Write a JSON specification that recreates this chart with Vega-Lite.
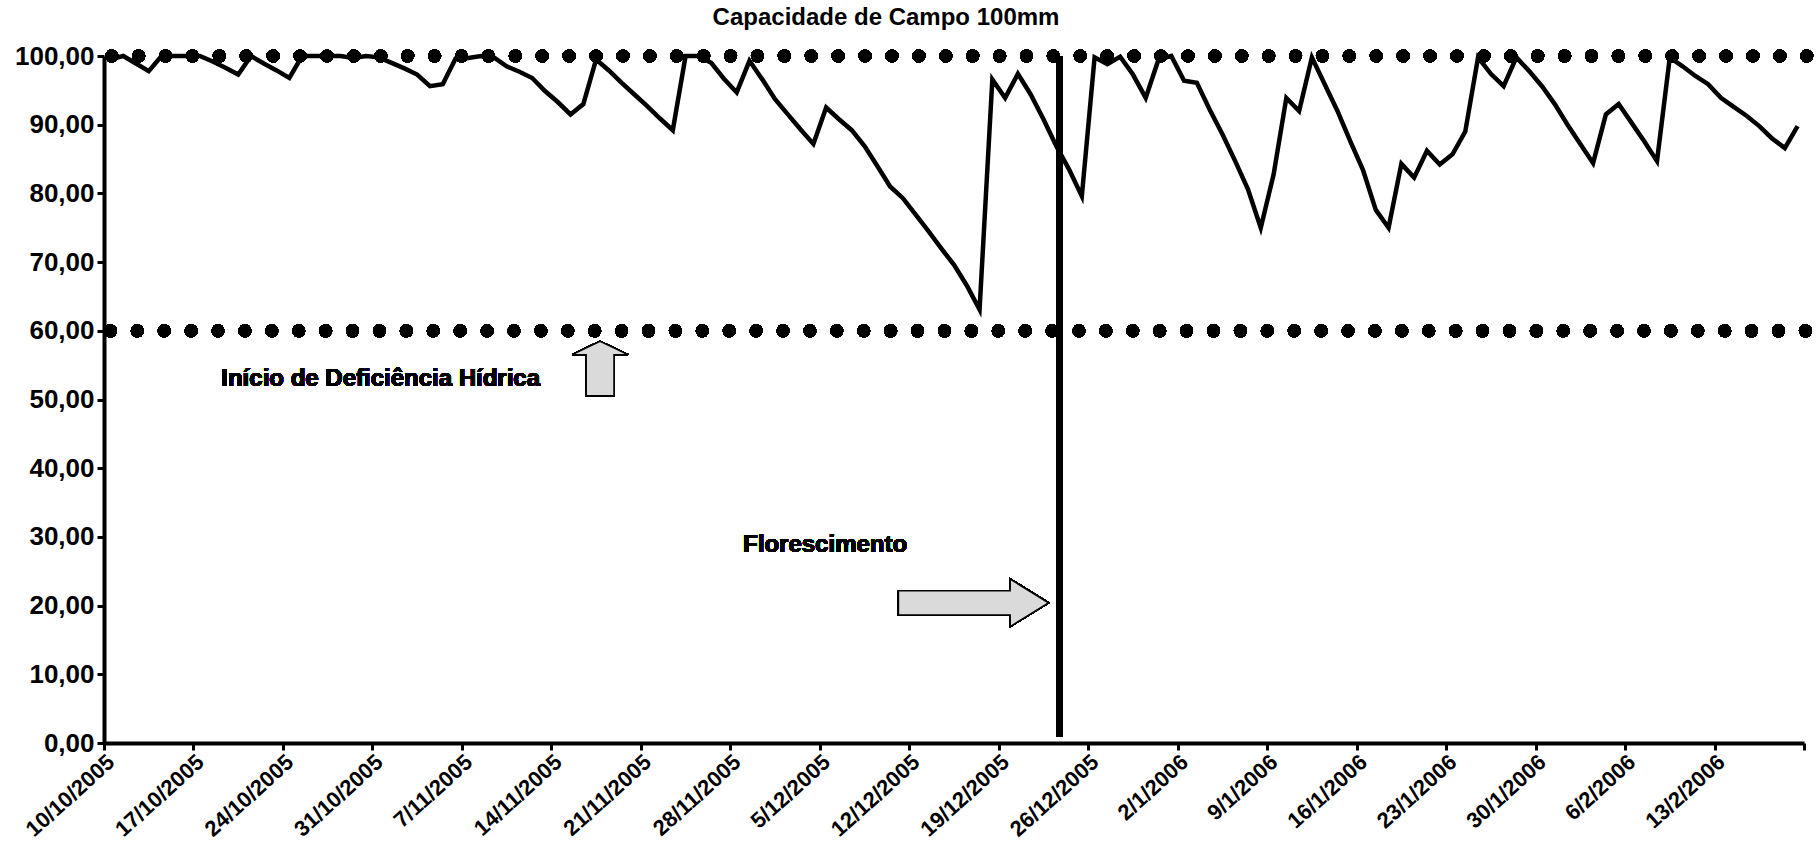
{
  "$schema": "https://vega.github.io/schema/vega-lite/v6.json",
  "width": 1700,
  "height": 687,
  "autosize": {"type": "none"},
  "padding": {"left": 104, "top": 56, "right": 12, "bottom": 113},
  "background": "white",
  "title": {"text": "Capacidade de Campo 100mm", "anchor": "middle", "dx": -68, "dy": 22, "offset": 16, "baseline": "alphabetic", "font": "Liberation Sans", "fontWeight": "bold", "fontSize": 24, "color": "black"},
  "config": {
    "view": {"stroke": null},
    "axis": {"grid": false, "domainColor": "black", "domainWidth": 4, "tickColor": "black", "tickWidth": 3, "tickSize": 7, "labelFont": "Liberation Sans", "labelFontWeight": "bold", "labelFontSize": 24, "labelColor": "black", "title": null}
  },
  "datasets": {
    "agua": [
      {"date": "2005-10-10", "armazenamento": 99.5},
      {"date": "2005-10-11", "armazenamento": 100},
      {"date": "2005-10-12", "armazenamento": 98.9},
      {"date": "2005-10-13", "armazenamento": 97.8},
      {"date": "2005-10-14", "armazenamento": 100},
      {"date": "2005-10-15", "armazenamento": 100},
      {"date": "2005-10-16", "armazenamento": 100},
      {"date": "2005-10-17", "armazenamento": 100},
      {"date": "2005-10-18", "armazenamento": 99.2},
      {"date": "2005-10-19", "armazenamento": 98.3},
      {"date": "2005-10-20", "armazenamento": 97.3},
      {"date": "2005-10-21", "armazenamento": 100},
      {"date": "2005-10-22", "armazenamento": 98.9},
      {"date": "2005-10-23", "armazenamento": 97.9},
      {"date": "2005-10-24", "armazenamento": 96.8},
      {"date": "2005-10-25", "armazenamento": 100},
      {"date": "2005-10-26", "armazenamento": 100},
      {"date": "2005-10-27", "armazenamento": 100},
      {"date": "2005-10-28", "armazenamento": 100},
      {"date": "2005-10-29", "armazenamento": 99.7},
      {"date": "2005-10-30", "armazenamento": 100},
      {"date": "2005-10-31", "armazenamento": 99.8},
      {"date": "2005-11-01", "armazenamento": 99.0},
      {"date": "2005-11-02", "armazenamento": 98.2},
      {"date": "2005-11-03", "armazenamento": 97.3},
      {"date": "2005-11-04", "armazenamento": 95.6},
      {"date": "2005-11-05", "armazenamento": 95.9},
      {"date": "2005-11-06", "armazenamento": 99.6},
      {"date": "2005-11-07", "armazenamento": 99.7},
      {"date": "2005-11-08", "armazenamento": 100},
      {"date": "2005-11-09", "armazenamento": 99.8},
      {"date": "2005-11-10", "armazenamento": 98.5},
      {"date": "2005-11-11", "armazenamento": 97.7},
      {"date": "2005-11-12", "armazenamento": 96.8},
      {"date": "2005-11-13", "armazenamento": 94.9},
      {"date": "2005-11-14", "armazenamento": 93.3},
      {"date": "2005-11-15", "armazenamento": 91.5},
      {"date": "2005-11-16", "armazenamento": 93.0},
      {"date": "2005-11-17", "armazenamento": 99.5},
      {"date": "2005-11-18", "armazenamento": 97.9},
      {"date": "2005-11-19", "armazenamento": 96.1},
      {"date": "2005-11-20", "armazenamento": 94.4},
      {"date": "2005-11-21", "armazenamento": 92.7},
      {"date": "2005-11-22", "armazenamento": 90.9},
      {"date": "2005-11-23", "armazenamento": 89.2},
      {"date": "2005-11-24", "armazenamento": 100},
      {"date": "2005-11-25", "armazenamento": 100},
      {"date": "2005-11-26", "armazenamento": 99.0},
      {"date": "2005-11-27", "armazenamento": 96.7},
      {"date": "2005-11-28", "armazenamento": 94.7},
      {"date": "2005-11-29", "armazenamento": 99.3},
      {"date": "2005-11-30", "armazenamento": 96.6},
      {"date": "2005-12-01", "armazenamento": 93.7},
      {"date": "2005-12-02", "armazenamento": 91.5},
      {"date": "2005-12-03", "armazenamento": 89.3},
      {"date": "2005-12-04", "armazenamento": 87.2},
      {"date": "2005-12-05", "armazenamento": 92.5},
      {"date": "2005-12-06", "armazenamento": 90.8},
      {"date": "2005-12-07", "armazenamento": 89.2},
      {"date": "2005-12-08", "armazenamento": 86.9},
      {"date": "2005-12-09", "armazenamento": 84.0},
      {"date": "2005-12-10", "armazenamento": 81.0},
      {"date": "2005-12-11", "armazenamento": 79.3},
      {"date": "2005-12-12", "armazenamento": 76.9},
      {"date": "2005-12-13", "armazenamento": 74.5},
      {"date": "2005-12-14", "armazenamento": 72.0},
      {"date": "2005-12-15", "armazenamento": 69.6},
      {"date": "2005-12-16", "armazenamento": 66.6},
      {"date": "2005-12-17", "armazenamento": 63.1},
      {"date": "2005-12-18", "armazenamento": 96.6},
      {"date": "2005-12-19", "armazenamento": 93.9},
      {"date": "2005-12-20", "armazenamento": 97.4},
      {"date": "2005-12-21", "armazenamento": 94.4},
      {"date": "2005-12-22", "armazenamento": 90.8},
      {"date": "2005-12-23", "armazenamento": 86.9},
      {"date": "2005-12-24", "armazenamento": 83.5},
      {"date": "2005-12-25", "armazenamento": 79.6},
      {"date": "2005-12-26", "armazenamento": 99.8},
      {"date": "2005-12-27", "armazenamento": 98.8},
      {"date": "2005-12-28", "armazenamento": 99.9},
      {"date": "2005-12-29", "armazenamento": 97.3},
      {"date": "2005-12-30", "armazenamento": 93.9},
      {"date": "2005-12-31", "armazenamento": 99.5},
      {"date": "2006-01-01", "armazenamento": 100},
      {"date": "2006-01-02", "armazenamento": 96.4},
      {"date": "2006-01-03", "armazenamento": 96.1},
      {"date": "2006-01-04", "armazenamento": 92.2},
      {"date": "2006-01-05", "armazenamento": 88.6},
      {"date": "2006-01-06", "armazenamento": 84.7},
      {"date": "2006-01-07", "armazenamento": 80.6},
      {"date": "2006-01-08", "armazenamento": 75.0},
      {"date": "2006-01-09", "armazenamento": 82.7},
      {"date": "2006-01-10", "armazenamento": 93.9},
      {"date": "2006-01-11", "armazenamento": 92.0},
      {"date": "2006-01-12", "armazenamento": 99.8},
      {"date": "2006-01-13", "armazenamento": 95.9},
      {"date": "2006-01-14", "armazenamento": 92.0},
      {"date": "2006-01-15", "armazenamento": 87.6},
      {"date": "2006-01-16", "armazenamento": 83.4},
      {"date": "2006-01-17", "armazenamento": 77.6},
      {"date": "2006-01-18", "armazenamento": 75.0},
      {"date": "2006-01-19", "armazenamento": 84.3},
      {"date": "2006-01-20", "armazenamento": 82.3},
      {"date": "2006-01-21", "armazenamento": 86.2},
      {"date": "2006-01-22", "armazenamento": 84.2},
      {"date": "2006-01-23", "armazenamento": 85.7},
      {"date": "2006-01-24", "armazenamento": 89.0},
      {"date": "2006-01-25", "armazenamento": 99.8},
      {"date": "2006-01-26", "armazenamento": 97.4},
      {"date": "2006-01-27", "armazenamento": 95.6},
      {"date": "2006-01-28", "armazenamento": 99.8},
      {"date": "2006-01-29", "armazenamento": 97.8},
      {"date": "2006-01-30", "armazenamento": 95.6},
      {"date": "2006-01-31", "armazenamento": 93.0},
      {"date": "2006-02-01", "armazenamento": 90.0},
      {"date": "2006-02-02", "armazenamento": 87.2},
      {"date": "2006-02-03", "armazenamento": 84.4},
      {"date": "2006-02-04", "armazenamento": 91.5},
      {"date": "2006-02-05", "armazenamento": 93.0},
      {"date": "2006-02-06", "armazenamento": 90.3},
      {"date": "2006-02-07", "armazenamento": 87.6},
      {"date": "2006-02-08", "armazenamento": 84.7},
      {"date": "2006-02-09", "armazenamento": 99.8},
      {"date": "2006-02-10", "armazenamento": 98.5},
      {"date": "2006-02-11", "armazenamento": 97.1},
      {"date": "2006-02-12", "armazenamento": 95.9},
      {"date": "2006-02-13", "armazenamento": 93.9},
      {"date": "2006-02-14", "armazenamento": 92.6},
      {"date": "2006-02-15", "armazenamento": 91.3},
      {"date": "2006-02-16", "armazenamento": 89.8},
      {"date": "2006-02-17", "armazenamento": 88.0},
      {"date": "2006-02-18", "armazenamento": 86.6},
      {"date": "2006-02-19", "armazenamento": 89.8}
    ]
  },
  "data": {"name": "agua"},
  "encoding": {
    "x": {
      "field": "date", "type": "temporal",
      "scale": {"type": "utc", "domain": [{"year": 2005, "month": 10, "date": 9, "hours": 12, "utc": true}, {"year": 2006, "month": 2, "date": 19, "hours": 12, "utc": true}]},
      "axis": {
        "values": [
          {"year": 2005, "month": 10, "date": 9, "hours": 12, "utc": true},
          {"year": 2005, "month": 10, "date": 16, "hours": 12, "utc": true},
          {"year": 2005, "month": 10, "date": 23, "hours": 12, "utc": true},
          {"year": 2005, "month": 10, "date": 30, "hours": 12, "utc": true},
          {"year": 2005, "month": 11, "date": 6, "hours": 12, "utc": true},
          {"year": 2005, "month": 11, "date": 13, "hours": 12, "utc": true},
          {"year": 2005, "month": 11, "date": 20, "hours": 12, "utc": true},
          {"year": 2005, "month": 11, "date": 27, "hours": 12, "utc": true},
          {"year": 2005, "month": 12, "date": 4, "hours": 12, "utc": true},
          {"year": 2005, "month": 12, "date": 11, "hours": 12, "utc": true},
          {"year": 2005, "month": 12, "date": 18, "hours": 12, "utc": true},
          {"year": 2005, "month": 12, "date": 25, "hours": 12, "utc": true},
          {"year": 2006, "month": 1, "date": 1, "hours": 12, "utc": true},
          {"year": 2006, "month": 1, "date": 8, "hours": 12, "utc": true},
          {"year": 2006, "month": 1, "date": 15, "hours": 12, "utc": true},
          {"year": 2006, "month": 1, "date": 22, "hours": 12, "utc": true},
          {"year": 2006, "month": 1, "date": 29, "hours": 12, "utc": true},
          {"year": 2006, "month": 2, "date": 5, "hours": 12, "utc": true},
          {"year": 2006, "month": 2, "date": 12, "hours": 12, "utc": true},
          {"year": 2006, "month": 2, "date": 19, "hours": 12, "utc": true}
        ],
        "labelExpr": "time(datum.value) > 1140000000000 ? '' : utcFormat(time(datum.value) + 43200000, '%-d/%-m/%Y')",
        "labelAngle": -42, "labelFontSize": 22, "labelAlign": "right", "labelBaseline": "top", "labelPadding": 1, "labelOverlap": false, "labelFlush": false, "labelBound": false
      }
    },
    "y": {
      "field": "armazenamento", "type": "quantitative",
      "scale": {"domain": [0, 100], "nice": false, "zero": true},
      "axis": {"values": [0, 10, 20, 30, 40, 50, 60, 70, 80, 90, 100], "labelExpr": "replace(format(datum.value, '.2f'), '.', ',')", "labelFontSize": 26, "labelPadding": 3, "labelFlush": false, "labelOverlap": false}
    }
  },
  "layer": [
    {
      "mark": {"type": "rule", "color": "black", "strokeWidth": 13, "strokeCap": "round", "strokeDash": [0.01, 26.895]},
      "encoding": {
        "x": {"datum": {"year": 2005, "month": 10, "date": 10, "hours": 2, "minutes": 30, "utc": true}, "type": "temporal"},
        "x2": {"datum": {"year": 2006, "month": 2, "date": 19, "hours": 18, "utc": true}},
        "y": {"datum": 100, "type": "quantitative"}
      }
    },
    {
      "mark": {"type": "rule", "color": "black", "strokeWidth": 13, "strokeCap": "round", "strokeDash": [0.01, 26.895]},
      "encoding": {
        "x": {"datum": {"year": 2005, "month": 10, "date": 10, "hours": 0, "utc": true}, "type": "temporal"},
        "x2": {"datum": {"year": 2006, "month": 2, "date": 19, "hours": 16, "utc": true}},
        "y": {"datum": 60, "type": "quantitative"}
      }
    },
    {
      "mark": {"type": "line", "color": "black", "strokeWidth": 4.5}
    },
    {
      "mark": {"type": "rule", "color": "black", "strokeWidth": 6},
      "encoding": {
        "x": {"datum": {"year": 2005, "month": 12, "date": 23, "hours": 6, "utc": true}, "type": "temporal"},
        "y": {"datum": 1, "type": "quantitative"},
        "y2": {"datum": 100}
      }
    },
    {
      "mark": {"type": "point", "shape": "M0,-0.98L1,-0.5L0.5,-0.5L0.5,0.975L-0.5,0.975L-0.5,-0.5L-1,-0.5Z", "size": 3091, "filled": true, "fill": "#dadada", "stroke": "black", "strokeWidth": 1.5, "opacity": 1},
      "encoding": {
        "x": {"datum": {"year": 2005, "month": 11, "date": 17, "hours": 7, "minutes": 30, "utc": true}, "type": "temporal"},
        "y": {"datum": 54.5, "type": "quantitative"}
      }
    },
    {
      "mark": {"type": "point", "shape": "M-1,-0.163L0.49,-0.163L0.49,-0.316L1,0L0.49,0.316L0.49,0.163L-1,0.163Z", "size": 22500, "filled": true, "fill": "#dadada", "stroke": "black", "strokeWidth": 1.5, "opacity": 1},
      "encoding": {
        "x": {"datum": {"year": 2005, "month": 12, "date": 16, "hours": 12, "minutes": 30, "utc": true}, "type": "temporal"},
        "y": {"datum": 20.4, "type": "quantitative"}
      }
    },
    {
      "mark": {"type": "text", "text": "Início de Deficiência Hídrica", "font": "Liberation Sans", "fontWeight": "bold", "fontSize": 24, "align": "center", "baseline": "alphabetic", "color": "black"},
      "encoding": {
        "x": {"datum": {"year": 2005, "month": 10, "date": 31, "hours": 3, "minutes": 30, "utc": true}, "type": "temporal"},
        "y": {"datum": 51.9, "type": "quantitative"}
      }
    },
    {
      "mark": {"type": "text", "text": "Florescimento", "font": "Liberation Sans", "fontWeight": "bold", "fontSize": 24, "align": "center", "baseline": "alphabetic", "color": "black"},
      "encoding": {
        "x": {"datum": {"year": 2005, "month": 12, "date": 4, "hours": 22, "utc": true}, "type": "temporal"},
        "y": {"datum": 27.8, "type": "quantitative"}
      }
    }
  ]
}
